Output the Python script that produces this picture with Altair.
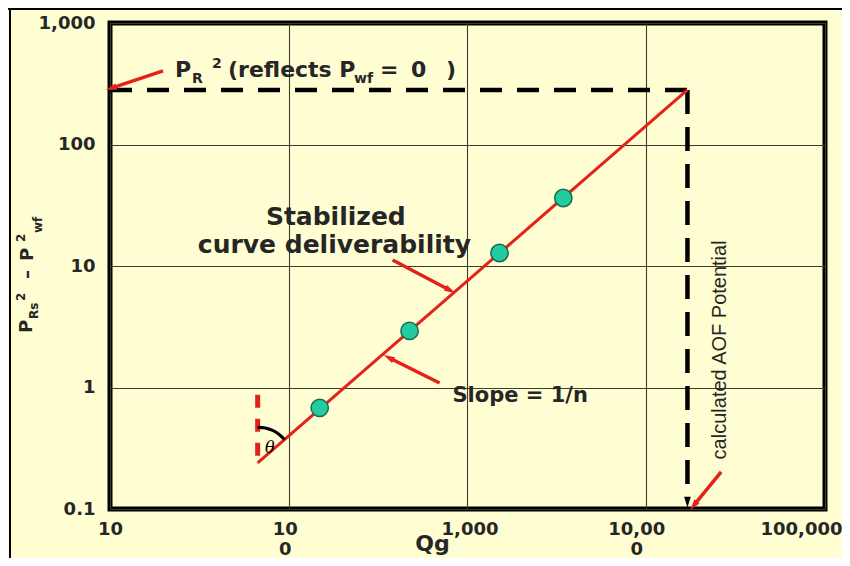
import altair as alt
import pandas as pd

# ---- data ----
x_ticks = [10, 100, 1000, 10000, 100000]
x_tick_labels = ["10", "10\n0", "1,000", "10,00\n0", "100,000"]
x_label_shift = [0, -4, 2, -10, -24]
y_ticks = [0.1, 1, 10, 100, 1000]
y_tick_labels = ["0.1", "1", "10", "100", "1,000"]

qg_points = [149, 474, 1510, 3436]
dp_points = [0.68, 2.92, 12.8, 36.3]

line_qg = [67, 17000]
line_dp = [0.24, 281]
pr2 = 281
aof_qg = 17000

# red annotation arrows: tail -> head (data units), head angle (deg)
arrow_x = [19.8, 381, 698, 26240]
arrow_y = [403, 11.2, 1.09, 0.202]
arrow_x2 = [10.26, 793, 366, 18540]
arrow_y2 = [292, 6.34, 1.75, 0.108]
arrow_angle = [252, 118, 297, 219]

RED = "#e3221b"
TXT = "#262626"
FONT = "DejaVu Sans"

xs = alt.Scale(type="log", domain=[10, 100000], nice=False)
ys = alt.Scale(type="log", domain=[0.1, 1000], nice=False)


def js_list(label):
    parts = label.split("\n")
    return "[" + ", ".join(f"'{p}'" for p in parts) + "]"


expr = " : ".join(
    f"datum.value == {v} ? {js_list(l)}" for v, l in zip(x_ticks, x_tick_labels)
) + " : ''"
offexpr = " : ".join(
    f"datum.value == {v} ? {o}" for v, o in zip(x_ticks, x_label_shift)
) + " : 0"
yexpr = " : ".join(
    f"datum.value == {v} ? '{l}'" for v, l in zip(y_ticks, y_tick_labels)
) + " : ''"

xaxis = alt.Axis(values=x_ticks, labelExpr=expr, title="Qg", grid=True, ticks=False,
                 domain=False, labelFlush=False, labelOverlap=False, labelPadding=11,
                 labelOffset={"expr": offexpr},
                 labelLineHeight=20, labelFont=FONT, labelFontWeight="bold",
                 labelFontSize=18, labelColor=TXT, titleFont=FONT, titleFontSize=22,
                 titleFontWeight="bold", titleColor=TXT, titleX=322, titleY=41,
                 titleBaseline="alphabetic", gridColor="#3c3c30", gridWidth=1.1)
yaxis = alt.Axis(values=y_ticks, labelExpr=yexpr, title=None, grid=True, ticks=False,
                 domain=False, labelOverlap=False, labelPadding=15, labelFont=FONT,
                 labelFontWeight="bold", labelFontSize=18, labelColor=TXT,
                 gridColor="#3c3c30", gridWidth=1.1)


def X(f):
    return alt.X(f, type="quantitative", scale=xs, axis=xaxis)


def Y(f):
    return alt.Y(f, type="quantitative", scale=ys, axis=yaxis)


pts = pd.DataFrame({"q": qg_points, "p": dp_points})
base_pts = alt.Chart(pts).mark_point(filled=True, size=300, fill="#22cca0", stroke="#1b6b50",
                                     strokeWidth=1.5, opacity=1).encode(x=X("q"), y=Y("p"))

one = pd.DataFrame({"x": [line_qg[0]], "y": [line_dp[0]], "x2": [line_qg[1]], "y2": [line_dp[1]]})
red_line = alt.Chart(one).mark_rule(color=RED, strokeWidth=3).encode(
    x=X("x"), y=Y("y"), x2="x2", y2="y2")

hdf = pd.DataFrame({"x": [10], "x2": [aof_qg], "y": [pr2]})
hdash = alt.Chart(hdf).mark_rule(color="black", strokeWidth=4.5, strokeDash=[22, 15]).encode(
    x=X("x"), x2="x2", y=Y("y"))

vdf = pd.DataFrame({"x": [aof_qg], "y": [pr2], "y2": [0.125]})
vdash = alt.Chart(vdf).mark_rule(color="black", strokeWidth=4.5, strokeDash=[24, 13]).encode(
    x=X("x"), y=Y("y"), y2="y2")

head = pd.DataFrame({"x": [aof_qg], "y": [0.117]})
vhead = alt.Chart(head).mark_point(shape="M0,1L-0.5,-0.6L0.5,-0.6Z", filled=True, size=180,
                                   color="black", opacity=1).encode(x=X("x"), y=Y("y"))

rdf = pd.DataFrame({"x": [line_qg[0]], "y": [0.87], "y2": [line_dp[0]]})
rdash = alt.Chart(rdf).mark_rule(color=RED, strokeWidth=5, strokeDash=[13, 11]).encode(
    x=X("x"), y=Y("y"), y2="y2")

adf = pd.DataFrame({"x": [line_qg[0]], "y": [line_dp[0]]})
arc = alt.Chart(adf).mark_arc(radius=37, radius2=34, theta=0, theta2=0.86, color="black").encode(
    x=X("x"), y=Y("y"))

ar = pd.DataFrame({"x": arrow_x, "y": arrow_y, "x2": arrow_x2, "y2": arrow_y2, "a": arrow_angle})
arrow_body = alt.Chart(ar).mark_rule(color=RED, strokeWidth=3.5).encode(
    x=X("x"), y=Y("y"), x2="x2", y2="y2")
arrow_head = alt.Chart(ar).mark_point(shape="M0,-1L0.5,0.7L-0.5,0.7Z", filled=True, size=170,
                                      color=RED, opacity=1).encode(
    x=X("x2"), y=Y("y2"), angle=alt.Angle("a:Q", scale=None))

# text annotations inside the plot (data coordinates + pixel offsets)
ann = pd.DataFrame({
    "x": [23.1] * 8 + [74.5, 31.0, 824],
    "y": [359] * 8 + [21.7, 12.8, 0.76],
    "t": ["P", "R", "2", "(reflects P", "wf", "=", "0", ")", "Stabilized",
          "curve deliverability", "Slope = 1/n"],
    "s": [22, 14, 14, 22, 14, 22, 22, 22, 25, 25, 21],
    "dx": [0, 17, 37, 53, 179, 205, 236, 271, 0, 0, 0],
    "dy": [0, 6, -9, 0, 6, 0, 0, 0, 0, 0, 0],
})
texts = []
for _, r in ann.iterrows():
    texts.append(alt.Chart(pd.DataFrame([r])).mark_text(
        align="left", baseline="alphabetic", font=FONT, fontWeight="bold",
        fontSize=float(r["s"]), color=TXT, dx=float(r["dx"]), dy=float(r["dy"])
    ).encode(x=X("x"), y=Y("y"), text="t:N"))

theta_df = pd.DataFrame({"x": [78.3], "y": [0.318], "t": ["θ"]})
theta_t = alt.Chart(theta_df).mark_text(font="DejaVu Serif", fontStyle="italic", fontSize=16,
                                        color="black").encode(x=X("x"), y=Y("y"), text="t:N")

aof_df = pd.DataFrame({"x": [26000], "y": [2.04], "t": ["calculated AOF Potential"]})
aof_t = alt.Chart(aof_df).mark_text(font="Liberation Sans", fontSize=20, angle=270,
                                    align="center", baseline="middle", color=TXT).encode(
    x=X("x"), y=Y("y"), text="t:N")

# rotated y-axis title pieces (pixel positions left of the plot)
yt = [("P", -78, 310, 18), ("Rs", -72, 296, 12), ("2", -85, 278, 12), ("–", -77, 256, 18),
      ("P", -77, 238, 18), ("2", -85, 219, 12), ("wf", -68, 210, 12)]
ytitle = []
for t, px, py, s in yt:
    ytitle.append(alt.Chart(pd.DataFrame({"t": [t]})).mark_text(
        angle=270, align="left", baseline="alphabetic", font=FONT, fontWeight="bold",
        fontSize=s, color=TXT).encode(x=alt.value(px), y=alt.value(py), text="t:N"))

frame_l = alt.Chart(pd.DataFrame({"a": [0]})).mark_rule(color="black", strokeWidth=2).encode(
    x=alt.value(-100), y=alt.value(-15), y2=alt.value(540))
frame_t = alt.Chart(pd.DataFrame({"a": [0]})).mark_rule(color="black", strokeWidth=2).encode(
    y=alt.value(-14), x=alt.value(-102), x2=alt.value(735))

chart = alt.layer(
    base_pts.mark_point(opacity=0), hdash, vdash, vhead, red_line, rdash, arc,
    arrow_body, arrow_head, base_pts, *texts, theta_t, aof_t, *ytitle, frame_l, frame_t
).properties(
    width=715, height=486, background="#fffdd2",
    padding={"left": 102, "top": 15, "right": 17, "bottom": 49},
    autosize=alt.AutoSizeParams(type="none"),
).configure_view(stroke="black", strokeWidth=5)

chart.save("out.html", embed_options={"renderer": "svg", "actions": False})
